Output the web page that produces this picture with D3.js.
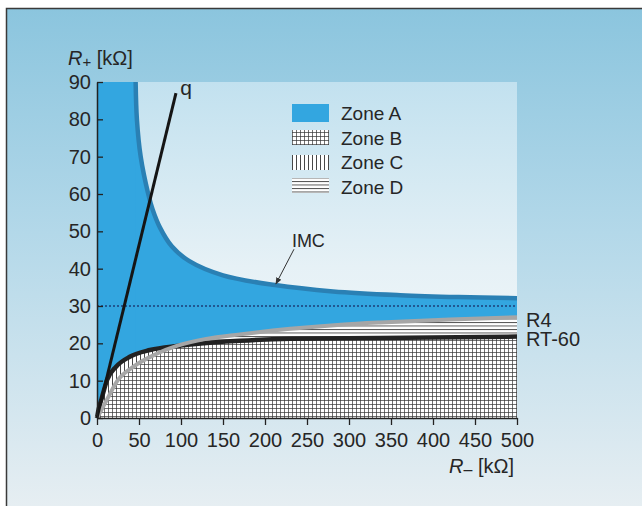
<!DOCTYPE html>
<html><head><meta charset="utf-8">
<script src="https://cdn.jsdelivr.net/npm/d3@7"></script>
<style>body{margin:0;background:#fff}svg{display:block;font-family:"Liberation Sans",Arial,sans-serif}</style>
</head><body>
<script>
// ---- data ----
const xTicks = [0,50,100,150,200,250,300,350,400,450,500];
const yTicks = [0,10,20,30,40,50,60,70,80,90];
const yMax = 90;
const threshold = 30;
// IMC curve (upper limit of Zone A)
const imcX = [46, 47.5, 52, 61, 66, 75, 89, 110, 150, 212, 281, 361, 430, 500];
const imcY = [90, 80, 70, 60, 56, 51, 46, 42, 38.2, 35.6, 33.9, 32.9, 32.4, 32.1];
// RT-60 curve (black)
const rt60X = [0, 2, 5.5, 12, 23, 39, 63, 95, 111, 170, 230, 337, 500];
const rt60Y = [0, 2.4, 5.2, 10.2, 13.8, 16.4, 18.2, 19.3, 19.7, 20.7, 21.2, 21.4, 21.8];
// R4 curve (grey)
const r4X = [0, 11.5, 25, 43, 71, 95, 130, 170, 230, 290, 337, 420, 500];
const r4Y = [0, 4.8, 10.2, 13.7, 17.2, 19.3, 21.2, 22.4, 23.9, 25.0, 25.6, 26.4, 27.0];
// line q
const qX = [0, 94];
const qY = [0, 87];
const legendLabels = ["Zone A","Zone B","Zone C","Zone D"];

const W = 642, H = 506;
const svg = d3.select("body").append("svg").attr("width", W).attr("height", H);
const defs = svg.append("defs");

// gradients
const g1 = defs.append("linearGradient").attr("id","outerBg").attr("x1",0).attr("y1",0).attr("x2",0).attr("y2",1);
g1.append("stop").attr("offset","0%").attr("stop-color","#8bc5de");
g1.append("stop").attr("offset","45%").attr("stop-color","#b3d8e9");
g1.append("stop").attr("offset","100%").attr("stop-color","#e6eef2");
const g2 = defs.append("linearGradient").attr("id","plotBg").attr("x1",0).attr("y1",0).attr("x2",0).attr("y2",1);
g2.append("stop").attr("offset","0%").attr("stop-color","#c2e1ef");
g2.append("stop").attr("offset","55%").attr("stop-color","#e6f1f6");
g2.append("stop").attr("offset","100%").attr("stop-color","#f6f9fa");

// patterns
const pGrid = defs.append("pattern").attr("id","grid").attr("patternUnits","userSpaceOnUse").attr("width",4).attr("height",4);
pGrid.append("rect").attr("width",4).attr("height",4).attr("fill","#fff");
pGrid.append("path").attr("d","M0.5,0V4M0,0.5H4").attr("stroke","#333").attr("stroke-width",0.7).attr("fill","none");
const pV = defs.append("pattern").attr("id","vlines").attr("patternUnits","userSpaceOnUse").attr("width",4).attr("height",4);
pV.append("rect").attr("width",4).attr("height",4).attr("fill","#fff");
pV.append("path").attr("d","M0.5,0V4").attr("stroke","#333").attr("stroke-width",0.9);
const pH = defs.append("pattern").attr("id","hlines").attr("patternUnits","userSpaceOnUse").attr("width",4).attr("height",3.5);
pH.append("rect").attr("width",4).attr("height",3.5).attr("fill","#fff");
pH.append("path").attr("d","M0,0.5H4").attr("stroke","#444").attr("stroke-width",0.9);

// background
svg.append("rect").attr("x",6).attr("y",8).attr("width",W-6).attr("height",H-8).attr("fill","url(#outerBg)");
svg.append("path").attr("d",`M6.5,${H}V8.5H${W}`).attr("stroke","#3a3a3a").attr("stroke-width",1.5).attr("fill","none");

const m = {l:97, r:517, t:82, b:418};
const x = d3.scaleLinear().domain([0,500]).range([m.l, m.r]);
const y = d3.scaleLinear().domain([0,90]).range([m.b, m.t]);

svg.append("rect").attr("x",m.l).attr("y",m.t).attr("width",m.r-m.l).attr("height",m.b-m.t).attr("fill","url(#plotBg)");

const imc = imcX.map((v,i)=>[v, imcY[i]]);
const rt60 = rt60X.map((v,i)=>[v, rt60Y[i]]);
const r4 = r4X.map((v,i)=>[v, r4Y[i]]);

const area = d3.area().x(d=>x(d[0])).y0(y(0)).y1(d=>y(d[1])).curve(d3.curveMonotoneX);
const line = d3.line().x(d=>x(d[0])).y(d=>y(d[1])).curve(d3.curveMonotoneX);
const areaS = d3.area().x(d=>x(d[0])).y0(y(0)).y1(d=>y(d[1])).curve(d3.curveCatmullRom.alpha(0.5));
const lineS = d3.line().x(d=>x(d[0])).y(d=>y(d[1])).curve(d3.curveCatmullRom.alpha(0.5));

// Zone A
const blue = "#33a6e0";
svg.append("rect").attr("x",x(0)).attr("y",y(yMax)).attr("width",x(imcX[0]+1)-x(0)).attr("height",y(0)-y(yMax)).attr("fill",blue);
svg.append("path").attr("d", areaS(imc)).attr("fill",blue);
// Zone C (below RT-60)
svg.append("path").attr("d", area(rt60)).attr("fill","url(#vlines)");
// Zone D (below R4)
svg.append("path").attr("d", area(r4)).attr("fill","url(#hlines)");
// Zone B (below both)
defs.append("clipPath").attr("id","clipR4").append("path").attr("d", area(r4));
svg.append("path").attr("d", area(rt60)).attr("fill","url(#grid)").attr("clip-path","url(#clipR4)");

// threshold dotted line
svg.append("line").attr("x1",x(0)).attr("x2",x(500)).attr("y1",y(threshold)).attr("y2",y(threshold))
  .attr("stroke","#1d3f78").attr("stroke-width",1.6).attr("stroke-dasharray","2,2");

// curves
svg.append("path").attr("d", line(rt60)).attr("fill","none").attr("stroke","#222").attr("stroke-width",4.5);
svg.append("path").attr("d", line(r4)).attr("fill","none").attr("stroke","#a6a6a6").attr("stroke-width",4);
svg.append("path").attr("d", lineS(imc)).attr("fill","none").attr("stroke","#2a80b4").attr("stroke-width",4.5);
svg.append("path").attr("d", d3.line().x(d=>x(d[0])).y(d=>y(d[1]))(qX.map((v,i)=>[v,qY[i]])))
  .attr("fill","none").attr("stroke","#151515").attr("stroke-width",3);

// axes
const txt = "#262626";
const ya = svg.append("g").attr("transform",`translate(${m.l},0)`)
  .call(d3.axisLeft(y).tickValues(yTicks).tickSizeInner(-6).tickSizeOuter(0).tickPadding(6).tickFormat(d3.format("d")));
ya.selectAll("text").attr("font-size",20).attr("fill",txt).attr("font-family","Liberation Sans, Arial, sans-serif");
ya.selectAll("line").attr("stroke","#222").attr("stroke-width",1.3);
ya.select(".domain").attr("stroke","#222").attr("stroke-width",1.5);
const xa = svg.append("g").attr("transform",`translate(0,${m.b})`)
  .call(d3.axisBottom(x).tickValues(xTicks).tickSizeInner(7).tickSizeOuter(0).tickPadding(8).tickFormat(d3.format("d")));
xa.selectAll("text").attr("font-size",20).attr("fill",txt).attr("font-family","Liberation Sans, Arial, sans-serif");
xa.selectAll("line").attr("stroke","#222").attr("stroke-width",1.3);
xa.select(".domain").attr("stroke","#222").attr("stroke-width",1.5);

// axis titles
const yt = svg.append("text").attr("x",68).attr("y",65).attr("font-size",20).attr("fill",txt);
yt.append("tspan").attr("font-style","italic").text("R");
yt.append("tspan").attr("font-size",15).attr("dy",2).text("+");
yt.append("tspan").attr("dy",-2).text(" [kΩ]");
const xt = svg.append("text").attr("x",514).attr("y",473).attr("font-size",20).attr("fill",txt).attr("text-anchor","end");
xt.append("tspan").attr("font-style","italic").text("R");
xt.append("tspan").attr("font-size",16).attr("dy",2).text("–");
xt.append("tspan").attr("dy",-2).text(" [kΩ]");

// curve labels
svg.append("text").attr("x",x(99)).attr("y",y(86.5)).attr("font-size",21).attr("fill",txt).text("q");
svg.append("text").attr("x",x(500)+9).attr("y",y(24.5)).attr("font-size",20).attr("fill",txt).text("R4");
svg.append("text").attr("x",x(500)+9).attr("y",y(19.2)).attr("font-size",20).attr("fill",txt).text("RT-60");
svg.append("text").attr("x",x(232)).attr("y",y(45.8)).attr("font-size",18).attr("fill",txt).text("IMC");
defs.append("marker").attr("id","arr").attr("viewBox","0 0 10 10").attr("refX",9).attr("refY",5)
  .attr("markerWidth",7).attr("markerHeight",7).attr("orient","auto")
  .append("path").attr("d","M0,1L10,5L0,9Z").attr("fill","#333");
svg.append("line").attr("x1",x(234.5)).attr("y1",y(45.2)).attr("x2",x(213)).attr("y2",y(35.9))
  .attr("stroke","#333").attr("stroke-width",1).attr("marker-end","url(#arr)");

// legend
const lg = svg.append("g").attr("transform","translate(292,104)");
const sw = [[blue,0,18],["url(#grid)",26,15],["url(#vlines)",51,15],["url(#hlines)",74,15]];
legendLabels.forEach((lab,i)=>{
  lg.append("rect").attr("x",0).attr("y",sw[i][1]).attr("width",37).attr("height",sw[i][2]).attr("fill",sw[i][0]);
  lg.append("text").attr("x",49).attr("y",16 + i*24.5).attr("font-size",19).attr("fill",txt).text(lab);
});
</script>
</body></html>
